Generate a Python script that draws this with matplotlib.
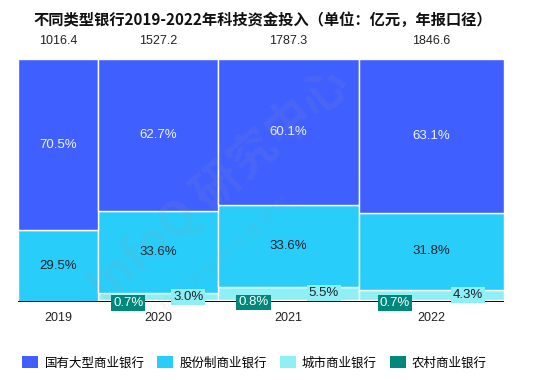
import matplotlib
matplotlib.use("Agg")
import matplotlib.pyplot as plt
from matplotlib.patches import Patch
import numpy as np

plt.rcParams['font.family'] = ['Noto Sans CJK SC', 'DejaVu Sans']

years = ['2019', '2020', '2021', '2022']
totals = [1016.4, 1527.2, 1787.3, 1846.6]
state_owned = [70.5, 62.7, 60.1, 63.1]
joint_stock = [29.5, 33.6, 33.6, 31.8]
city = [0.0, 3.0, 5.5, 4.3]
rural = [0.0, 0.7, 0.8, 0.7]
series_names = ['国有大型商业银行', '股份制商业银行', '城市商业银行', '农村商业银行']
colors = ['#3F5FFF', '#29CDF9', '#8EF0F4', '#00897B']
title = '不同类型银行2019-2022年科技资金投入（单位：亿元，年报口径）'

W, H = 555, 380
fig = plt.figure(figsize=(W / 100, H / 100), dpi=100)
ax = fig.add_axes([18.3 / W, 78 / H, (504 - 18.3) / W, 243 / H])

widths = np.array(totals)
lefts = np.concatenate([[0], np.cumsum(widths)[:-1]])
centers = lefts + widths / 2

# stacking order from bottom: rural, city, joint-stock, state-owned
stack = [rural, city, joint_stock, state_owned]
stack_colors = [colors[3], colors[2], colors[1], colors[0]]
bottom = np.zeros(len(years))
bottoms = []
for vals, c in zip(stack, stack_colors):
    vals = np.array(vals)
    bottoms.append(bottom.copy())
    ax.bar(lefts, vals, width=widths, bottom=bottom, align='edge',
           color=c, edgecolor='white', linewidth=1.0, zorder=2)
    bottom = bottom + vals

ax.set_xlim(0, widths.sum())
ax.set_ylim(0, 100)
for s in ax.spines.values():
    s.set_visible(False)
ax.set_xticks([])
ax.set_yticks([])
ax.axhline(0, color='black', lw=1.3, zorder=5)

num_font = ['Liberation Sans', 'DejaVu Sans']
fs = 9.5
for i in range(len(years)):
    so_b, js_b, ct_b, ru_b = bottoms[3][i], bottoms[2][i], bottoms[1][i], bottoms[0][i]
    ax.text(centers[i], so_b + state_owned[i] / 2, f'{state_owned[i]:.1f}%',
            ha='center', va='center', color='#F0F3FF', fontsize=fs, family=num_font, zorder=6)
    ax.text(centers[i], js_b + joint_stock[i] / 2, f'{joint_stock[i]:.1f}%',
            ha='center', va='center', color='#1A2430', fontsize=fs, family=num_font, zorder=6)
    if city[i] > 0:
        ax.text(lefts[i] + widths[i] * 0.75, ct_b + city[i] / 2, f'{city[i]:.1f}%',
                ha='center', va='center', color='#1A2430', fontsize=fs, family=num_font, zorder=7,
                bbox=dict(boxstyle='square,pad=0.15', fc=colors[2], ec='none'))
    if rural[i] > 0:
        ax.text(lefts[i] + widths[i] * 0.25, ru_b + rural[i] / 2 - 0.6, f'{rural[i]:.1f}%',
                ha='center', va='center', color='white', fontsize=fs, family=num_font, zorder=7,
                bbox=dict(boxstyle='square,pad=0.15', fc=colors[3], ec='none'))
    ax.annotate(f'{totals[i]:.1f}', (centers[i], 100), xytext=(0, 9),
                textcoords='offset points', ha='center', va='bottom',
                fontsize=9, family=num_font, color='#222222', annotation_clip=False)
    ax.annotate(years[i], (centers[i], 0), xytext=(0, -11.5),
                textcoords='offset points', ha='center', va='center',
                fontsize=9, family=num_font, color='#222222', annotation_clip=False)

fig.text(33 / W, 1 - 20 / H, title, ha='left', va='center', fontsize=11,
         fontweight='bold', color='#111111')

# faint watermark
fig.text(218 / W, 1 - 185 / H, 'InfoQ 研究中心', ha='center', va='center',
         fontsize=34, fontweight='bold', color='#9AA0AA', alpha=0.11,
         rotation=41, zorder=10)
fig.text(225 / W, 1 - 255 / H, '极 客 邦 科 技 双 数 研 究', ha='center', va='center',
         fontsize=11, color='#9AA0AA', alpha=0.13, rotation=41, zorder=10)

handles = [Patch(facecolor=c, edgecolor='none') for c in colors]
fig.legend(handles, series_names, loc='center', bbox_to_anchor=(254.5 / W, 1 - 363 / H),
           ncol=4, frameon=False, fontsize=9, handlelength=1.3, handleheight=1.1,
           handletextpad=0.5, columnspacing=1.0, borderpad=0)

fig.savefig('out.png', dpi=100)
